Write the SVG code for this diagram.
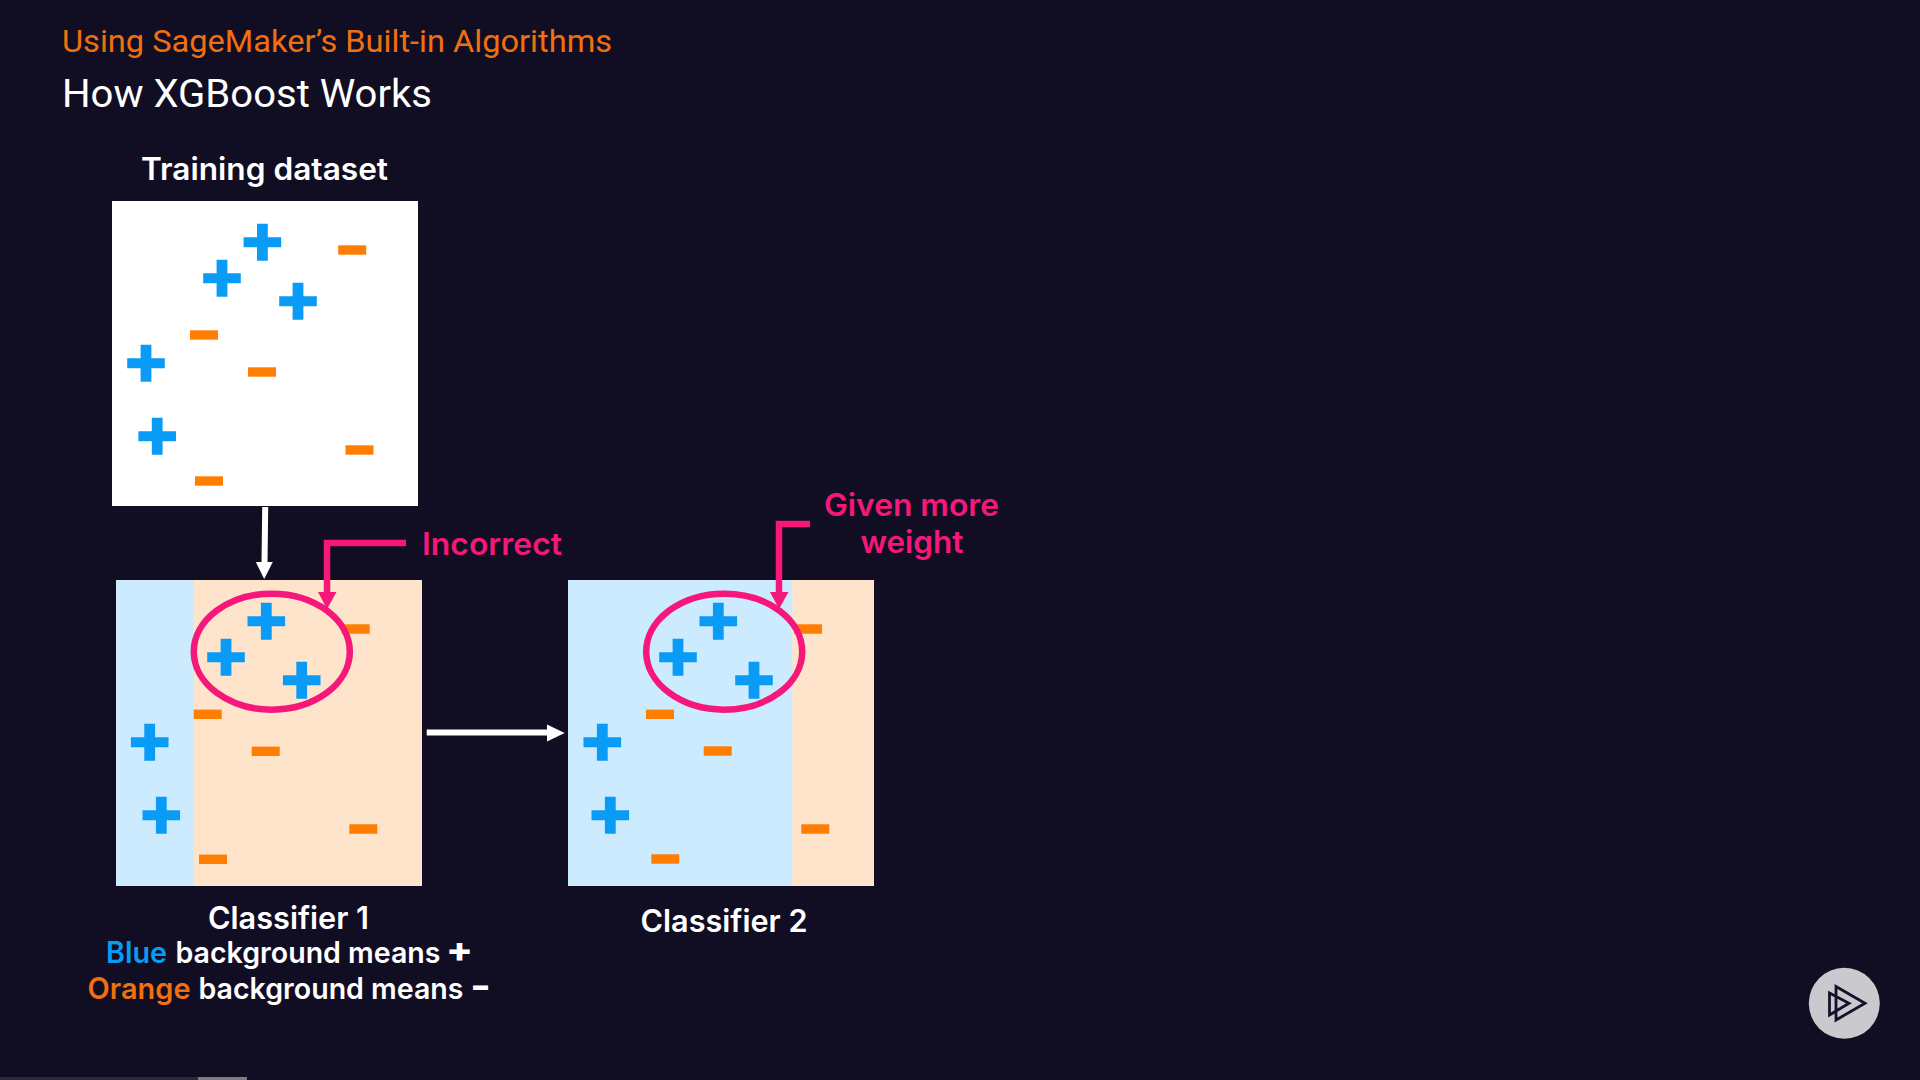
<svg xmlns="http://www.w3.org/2000/svg" xmlns:xlink="http://www.w3.org/1999/xlink" width="1920" height="1080" viewBox="0 0 1920 1080">
<style>
text{font-family:"Inter","Liberation Sans",sans-serif;fill:#fff}
.thin{font-family:"Roboto","Liberation Sans",sans-serif;font-weight:400}
.b{font-weight:600;font-size:31px}
.s{font-weight:600;font-size:29.5px}
.pk{fill:#f5177a;font-weight:600;font-size:31px}
.p{fill:#0a9bf7}
.m{fill:#ff7d00}
.bg-b{fill:#cdebfe}
.bg-o{fill:#fee4cb}
.ring{fill:none;stroke:#f5177a;stroke-width:6.5}
.pl{fill:none;stroke:#f5177a;stroke-width:6.5}
.wl{fill:none;stroke:#fff;stroke-width:6}
</style>
<defs>
<path id="plus" class="p" d="M-5.4-18.5H5.4V-5H18.8V5H5.4V18.5H-5.4V5H-18.8V-5H-5.4Z"/>
<rect id="minus" class="m" x="-14" y="-4.7" width="28" height="9.4"/>
</defs>
<rect width="1920" height="1080" fill="#110e23"/>
<rect y="1077" width="198" height="3" fill="#2a2935"/>
<rect x="198" y="1077" width="49" height="3" fill="#7c7b84"/>
<g id="heading">
<text class="thin" x="62" y="52" font-size="32" style="fill:#f0700f" textLength="550" lengthAdjust="spacingAndGlyphs">Using SageMaker’s Built-in Algorithms</text>
<text class="thin" x="62" y="107" font-size="39" textLength="370" lengthAdjust="spacingAndGlyphs">How XGBoost Works</text>
</g>
<g id="training">
<text class="b" x="141" y="180" textLength="247" lengthAdjust="spacingAndGlyphs">Training dataset</text>
<rect x="112" y="201" width="306" height="305" fill="#fff"/>
<use xlink:href="#plus" href="#plus" x="262.4" y="242.3"/>
<use xlink:href="#plus" href="#plus" x="222" y="278.3"/>
<use xlink:href="#plus" href="#plus" x="298" y="301.3"/>
<use xlink:href="#plus" href="#plus" x="146" y="363.3"/>
<use xlink:href="#plus" href="#plus" x="157.2" y="436.3"/>
<use xlink:href="#minus" href="#minus" x="352.2" y="250"/>
<use xlink:href="#minus" href="#minus" x="204" y="335"/>
<use xlink:href="#minus" href="#minus" x="262" y="372"/>
<use xlink:href="#minus" href="#minus" x="359.5" y="450"/>
<use xlink:href="#minus" href="#minus" x="209" y="481"/>
</g>
<g id="classifier1">
<rect x="116" y="580" width="306" height="306" class="bg-o"/>
<rect x="116" y="580" width="78" height="306" class="bg-b"/>
<use xlink:href="#plus" href="#plus" x="266.3" y="621.3"/>
<use xlink:href="#plus" href="#plus" x="226" y="657.3"/>
<use xlink:href="#plus" href="#plus" x="301.7" y="680.3"/>
<use xlink:href="#plus" href="#plus" x="149.7" y="742.3"/>
<use xlink:href="#plus" href="#plus" x="161.3" y="815.3"/>
<use xlink:href="#minus" href="#minus" x="355.7" y="629"/>
<use xlink:href="#minus" href="#minus" x="207.7" y="714.3"/>
<use xlink:href="#minus" href="#minus" x="265.7" y="751.3"/>
<use xlink:href="#minus" href="#minus" x="363.3" y="829"/>
<use xlink:href="#minus" href="#minus" x="213" y="859.3"/>
<ellipse class="ring" cx="271.8" cy="651.7" rx="78" ry="58"/>
<text class="b" x="208" y="929" textLength="161" lengthAdjust="spacingAndGlyphs">Classifier 1</text>
<text class="s" y="963" x="106" textLength="61" lengthAdjust="spacingAndGlyphs" style="fill:#0a9bf7">Blue</text>
<text class="s" y="963" x="175.5" textLength="265" lengthAdjust="spacingAndGlyphs">background means</text>
<text class="s" y="999" x="87.5" textLength="103" lengthAdjust="spacingAndGlyphs" style="fill:#f0700f">Orange</text>
<text class="s" y="999" x="198.5" textLength="265" lengthAdjust="spacingAndGlyphs">background means</text>
<text x="446" y="962" font-size="34" font-weight="800" textLength="27" lengthAdjust="spacingAndGlyphs">+</text>
<text x="470.5" y="997" font-size="32" font-weight="800" textLength="20" lengthAdjust="spacingAndGlyphs">−</text>
</g>
<g id="classifier2">
<rect x="568" y="580" width="306" height="306" class="bg-b"/>
<rect x="792.3" y="580" width="81.7" height="306" class="bg-o"/>
<use xlink:href="#plus" href="#plus" x="718.3" y="621.3"/>
<use xlink:href="#plus" href="#plus" x="678" y="657.3"/>
<use xlink:href="#plus" href="#plus" x="754" y="680.3"/>
<use xlink:href="#plus" href="#plus" x="602.3" y="742.3"/>
<use xlink:href="#plus" href="#plus" x="610.3" y="815.3"/>
<use xlink:href="#minus" href="#minus" x="808" y="629"/>
<use xlink:href="#minus" href="#minus" x="660" y="714.3"/>
<use xlink:href="#minus" href="#minus" x="717.7" y="751"/>
<use xlink:href="#minus" href="#minus" x="815.3" y="829"/>
<use xlink:href="#minus" href="#minus" x="665.3" y="859"/>
<ellipse class="ring" cx="724.2" cy="651.7" rx="78" ry="58"/>
<text class="b" x="640.5" y="932" textLength="167" lengthAdjust="spacingAndGlyphs">Classifier 2</text>
</g>
<g id="incorrect-label"><text class="pk" x="422" y="555" textLength="140" lengthAdjust="spacingAndGlyphs" style="fill:#f5177a">Incorrect</text></g>
<g id="weight-label">
<text class="pk" x="824" y="516" textLength="175" lengthAdjust="spacingAndGlyphs" style="fill:#f5177a">Given more</text>
<text class="pk" x="860.5" y="553" textLength="103" lengthAdjust="spacingAndGlyphs" style="fill:#f5177a">weight</text>
</g>
<g id="connectors">
<path class="wl" d="M265.2 507L264.5 564"/><path fill="#fff" d="M255.8 562H272.8L264.2 579Z"/>
<path class="wl" d="M426.7 732.5H550"/><path fill="#fff" d="M547 724.5L564.7 733L547 741.5Z"/>
<path class="pl" d="M406 543H327V594"/><path fill="#f5177a" d="M318 592H336.5L327 609Z"/>
<path class="pl" d="M810 524H779V594"/><path fill="#f5177a" d="M770 592H788.5L779 609Z"/>
</g>
<g id="logo">
<circle cx="1844.3" cy="1003.3" r="35.5" fill="#c9c9ce"/>
<path d="M1836 986.5L1865 1003.3L1836 1020Z M1829.5 993L1849 1003.3L1829.5 1015Z" fill="none" stroke="#14122a" stroke-width="2.8"/>
</g>
</svg>
